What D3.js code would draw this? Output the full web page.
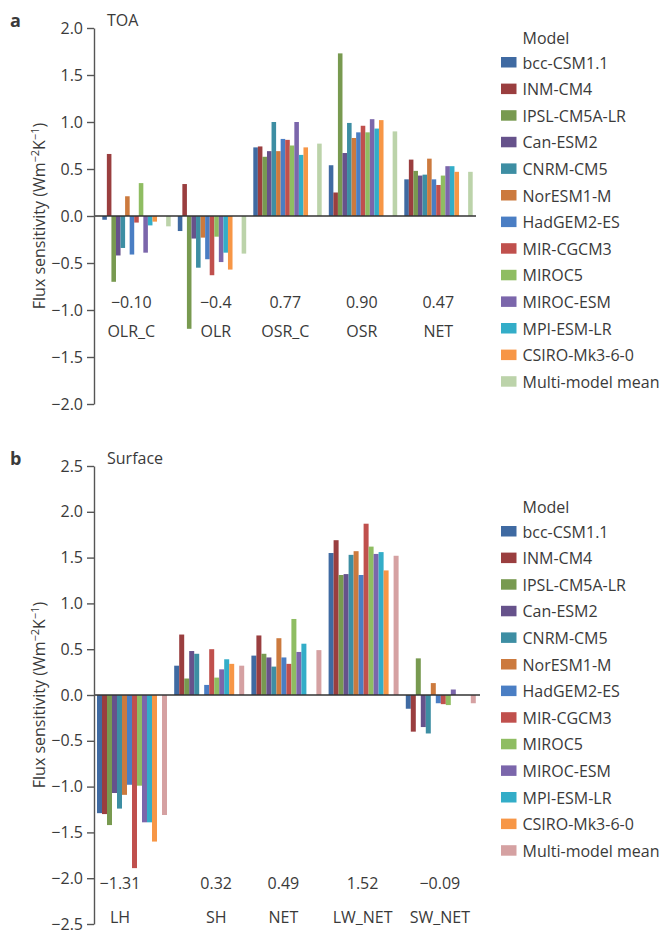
<!doctype html>
<html>
  <head>
    <meta charset="UTF-8">
    <title>Flux sensitivity</title>
    <style>
      body { margin: 0; background: #fff; }
      svg text { font-family: "Open Sans", "Noto Sans", sans-serif; fill: #3a3a3a; }
      .axis path, .axis line { stroke: #555; stroke-width: 1.4px; }
      .axis text { font-size: 16px; fill: #3a3a3a; }
    </style>
  </head>
  <body>
    <svg id="chart" width="670" height="933"></svg>
    <script src="https://d3js.org/d3.v7.min.js"></script>
    <script>
      // Models, in legend order
      const models = ["bcc-CSM1.1", "INM-CM4", "IPSL-CM5A-LR", "Can-ESM2", "CNRM-CM5", "NorESM1-M",
        "HadGEM2-ES", "MIR-CGCM3", "MIROC5", "MIROC-ESM", "MPI-ESM-LR", "CSIRO-Mk3-6-0"];
      const modelColors = ["#3f6aa2", "#9a3e3f", "#789a50", "#66528b", "#3d8ea3", "#cc7a3e",
        "#4a7ec4", "#c0504d", "#8fbd62", "#7b66ab", "#33adc8", "#f79646"];

      // Panel a: TOA
      const toaCats = ["OLR_C", "OLR", "OSR_C", "OSR", "NET"];
      const toaValues = [
        [-0.04, 0.66, -0.70, -0.42, -0.34, 0.21, -0.41, -0.07, 0.35, -0.39, -0.10, -0.06],
        [-0.16, 0.34, -1.20, -0.24, -0.55, -0.23, -0.46, -0.63, -0.22, -0.49, -0.39, -0.57],
        [0.73, 0.74, 0.63, 0.69, 1.00, 0.69, 0.82, 0.81, 0.75, 1.00, 0.65, 0.73],
        [0.54, 0.25, 1.73, 0.67, 0.99, 0.83, 0.89, 0.96, 0.89, 1.03, 0.93, 1.02],
        [0.39, 0.60, 0.48, 0.43, 0.44, 0.61, 0.39, 0.33, 0.43, 0.53, 0.53, 0.47]
      ];
      const toaMean = [-0.11, -0.40, 0.77, 0.90, 0.47];
      const toaMeanLabels = ["−0.10", "−0.4", "0.77", "0.90", "0.47"];
      const toaTicks = [-2.0, -1.5, -1.0, -0.5, 0.0, 0.5, 1.0, 1.5, 2.0];

      // Panel b: Surface (null = no bar)
      const surfCats = ["LH", "SH", "NET", "LW_NET", "SW_NET"];
      const surfValues = [
        [-1.29, -1.30, -1.42, -1.07, -1.24, -1.09, -0.98, -1.89, -0.99, -1.39, -1.39, -1.60],
        [0.32, 0.66, 0.18, 0.48, 0.45, null, 0.11, 0.50, 0.19, 0.28, 0.39, 0.34],
        [0.43, 0.65, 0.45, 0.41, 0.31, 0.62, 0.41, 0.34, 0.83, 0.47, 0.56, null],
        [1.55, 1.69, 1.31, 1.32, 1.53, 1.57, 1.31, 1.87, 1.62, 1.54, 1.56, 1.36],
        [-0.15, -0.40, 0.40, -0.35, -0.42, 0.13, -0.09, -0.10, -0.11, 0.06, null, null]
      ];
      const surfMean = [-1.31, 0.32, 0.49, 1.52, -0.09];
      const surfMeanLabels = ["−1.31", "0.32", "0.49", "1.52", "−0.09"];
      const surfTicks = [-2.5, -2.0, -1.5, -1.0, -0.5, 0.0, 0.5, 1.0, 1.5, 2.0, 2.5];

      const svg = d3.select("#chart");
      const axisX = 94;

      const panels = [
        {
          letter: "a", title: "TOA", cats: toaCats, values: toaValues, mean: toaMean,
          meanLabels: toaMeanLabels, ticks: toaTicks, domain: [-2, 2], yRange: [404, 28],
          xStart: 102.3, step: 75.5, slot: 4.56, slots: 15, meanColor: "#bcd3aa",
          zeroEnd: 476, labelShift: [29, 38, 32, 33, 34], valueY: 308, nameY: 337,
          letterY: 27, legendTop: 38
        },
        {
          letter: "b", title: "Surface", cats: surfCats, values: surfValues, mean: surfMean,
          meanLabels: surfMeanLabels, ticks: surfTicks, domain: [-2.5, 2.5], yRange: [924, 466],
          xStart: 97, step: 77.2, slot: 5, slots: 14, meanColor: "#d5a1a2",
          zeroEnd: 480, labelShift: [23, 42, 32, 34, 34], valueY: 889, nameY: 923,
          letterY: 465, legendTop: 507
        }
      ];

      panels.forEach(p => {
        const g = svg.append("g");
        const y = d3.scaleLinear().domain(p.domain).range(p.yRange);
        const x0 = d3.scaleBand().domain(p.cats)
          .range([p.xStart, p.xStart + p.cats.length * p.step]);
        const x1 = d3.scaleBand().domain(d3.range(p.slots)).range([0, p.slots * p.slot]);

        // bars: 12 models then the multi-model mean in the last slot
        const bars = [];
        p.cats.forEach((c, i) => {
          p.values[i].forEach((v, m) => {
            if (v !== null) bars.push({ cat: c, slot: m, value: v, color: modelColors[m] });
          });
          bars.push({ cat: c, slot: p.slots - 1, value: p.mean[i], color: p.meanColor });
        });

        g.selectAll("rect.bar")
          .data(bars)
          .enter().append("rect")
            .attr("class", "bar")
            .attr("x", d => x0(d.cat) + x1(d.slot))
            .attr("width", x1.bandwidth())
            .attr("y", d => y(Math.max(0, d.value)))
            .attr("height", d => Math.abs(y(d.value) - y(0)))
            .attr("fill", d => d.color);

        // zero line
        g.append("line")
          .attr("x1", axisX).attr("x2", p.zeroEnd)
          .attr("y1", y(0)).attr("y2", y(0))
          .attr("stroke", "#333").attr("stroke-width", 1.5);

        // y axis
        g.append("g")
          .attr("class", "axis")
          .attr("transform", `translate(${axisX},0)`)
          .call(d3.axisLeft(y).tickValues(p.ticks).tickFormat(d3.format(".1f"))
            .tickSize(7).tickSizeOuter(0).tickPadding(4))
          .call(a => a.selectAll("text").attr("fill", "#3a3a3a"));

        // category labels and mean values
        p.cats.forEach((c, i) => {
          const cx = x0(c) + p.labelShift[i];
          g.append("text").attr("x", cx).attr("y", p.valueY)
            .attr("text-anchor", "middle").style("font-size", "16px").text(p.meanLabels[i]);
          g.append("text").attr("x", cx).attr("y", p.nameY)
            .attr("text-anchor", "middle").style("font-size", "16px").text(c);
        });

        // y label
        const cy = (p.yRange[0] + p.yRange[1]) / 2;
        const yl = g.append("text")
          .attr("transform", `translate(45,${cy}) rotate(-90)`)
          .attr("text-anchor", "middle").style("font-size", "16px");
        yl.append("tspan").text("Flux sensitivity (Wm");
        yl.append("tspan").attr("dy", -6).style("font-size", "11px").text("−2");
        yl.append("tspan").attr("dy", 6).text("K");
        yl.append("tspan").attr("dy", -6).style("font-size", "11px").text("−1");
        yl.append("tspan").attr("dy", 6).text(")");

        // panel letter and title
        g.append("text").attr("x", 10).attr("y", p.letterY)
          .style("font-size", "18px").style("font-weight", "bold").attr("fill", "#222")
          .text(p.letter);
        g.append("text").attr("x", 107).attr("y", p.letterY - 1)
          .style("font-size", "16px").text(p.title);

        // legend
        const lg = g.append("g");
        lg.append("text").attr("x", 522.5).attr("y", p.legendTop + 6)
          .style("font-size", "16px").text("Model");
        const entries = models.map((m, i) => ({ name: m, color: modelColors[i] }))
          .concat([{ name: "Multi-model mean", color: p.meanColor }]);
        const rows = lg.selectAll("g.row")
          .data(entries)
          .enter().append("g")
            .attr("class", "row")
            .attr("transform", (d, i) => `translate(0,${p.legendTop + 24.5 + i * 26.6})`);
        rows.append("rect")
          .attr("x", 501).attr("y", -5.5).attr("width", 15.5).attr("height", 10.5)
          .attr("fill", d => d.color);
        rows.append("text")
          .attr("x", 522.5).attr("y", 6)
          .style("font-size", "16px").text(d => d.name);
      });
    </script>
  </body>
</html>
